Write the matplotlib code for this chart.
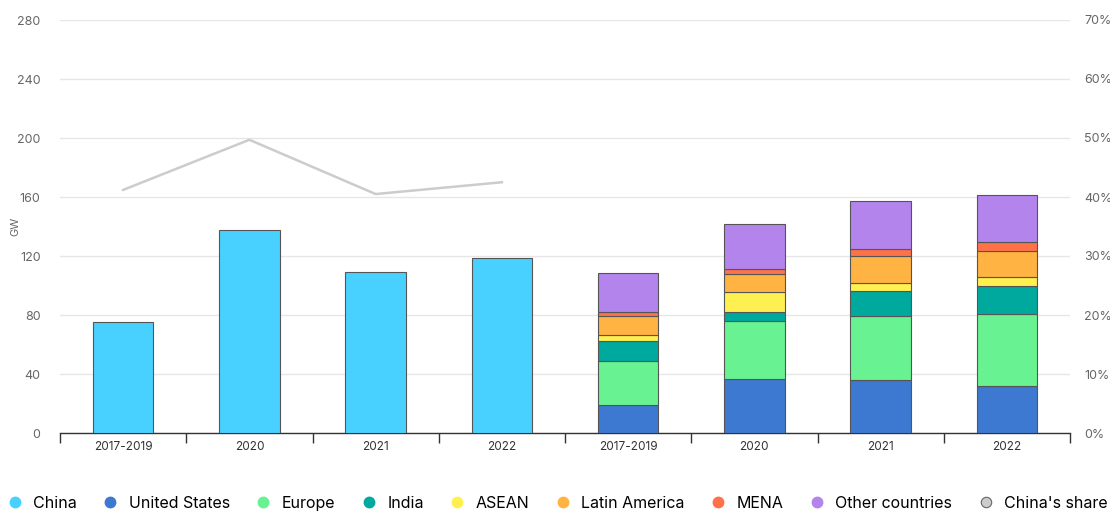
import matplotlib
matplotlib.use("Agg")
import matplotlib.pyplot as plt
from matplotlib.lines import Line2D
from matplotlib.ticker import FuncFormatter
import numpy as np

plt.rcParams['font.family'] = ['Inter', 'DejaVu Sans']

# Categories (first four: China; last four: rest of world by region)
categories = ["2017-2019", "2020", "2021", "2022", "2017-2019", "2020", "2021", "2022"]

china = [75.3, 137.6, 109.2, 118.6]
china_share = [41.2, 49.7, 40.5, 42.5]  # percent

united_states = [19.0, 36.8, 35.7, 31.9]
europe = [29.6, 39.3, 43.6, 48.6]
india = [13.6, 5.7, 16.8, 19.2]
asean = [4.5, 13.6, 5.4, 5.9]
latin_america = [12.4, 12.4, 18.5, 17.9]
mena = [2.7, 3.2, 4.5, 6.3]
other_countries = [27.0, 30.7, 32.6, 31.7]

region_series = [
    ("United States", united_states, "#3d78d1"),
    ("Europe", europe, "#68f291"),
    ("India", india, "#00a99d"),
    ("ASEAN", asean, "#fff051"),
    ("Latin America", latin_america, "#ffb343"),
    ("MENA", mena, "#ff7149"),
    ("Other countries", other_countries, "#b284ec"),
]
china_color = "#48d1ff"
share_color = "#cccccc"

fig = plt.figure(figsize=(11.1, 5.11), dpi=100)
ax = fig.add_axes([60 / 1110, 1 - 433 / 511, 1010 / 1110, 413 / 511])

x = np.arange(len(categories))
bw = 0.48
edge = dict(edgecolor="#555555", linewidth=0.8)

ax.bar(x[:4], china, width=bw, color=china_color, zorder=3, **edge)

bottom = np.zeros(4)
for name, vals, col in region_series:
    vals = np.array(vals)
    ax.bar(x[4:], vals, width=bw, bottom=bottom, color=col, zorder=3, **edge)
    bottom += vals

ax.set_xlim(-0.5, len(categories) - 0.5)
ax.set_ylim(0, 280)
ax.set_yticks(np.arange(0, 281, 40))
ax.grid(axis="y", color="#e6e6e6", linewidth=1, zorder=0)
ax.tick_params(axis="y", length=0, pad=14, labelsize=9, labelcolor="#666666")
fig.text(15 / 1110, 1 - 226 / 511, "GW", rotation=90, fontsize=8, color="#666666",
         ha="center", va="center")

# Category boundaries carry ticks; labels sit at the centres
ax.set_xticks(np.arange(-0.5, len(categories), 1.0))
ax.set_xticklabels([])
ax.set_xticks(x, minor=True)
ax.set_xticklabels(categories, minor=True)
ax.tick_params(axis="x", which="major", length=7, width=1, color="#333333", direction="out")
ax.tick_params(axis="x", which="minor", length=0, pad=6, labelsize=8.5, labelcolor="#333333")

for side in ["top", "right", "left"]:
    ax.spines[side].set_visible(False)
ax.spines["bottom"].set_color("#333333")
ax.spines["bottom"].set_linewidth(1)

ax2 = ax.twinx()
ax2.plot(x[:4], np.array(china_share) / 100, color=share_color, linewidth=1.8, zorder=4)
ax2.set_ylim(0, 0.7)
ax2.set_yticks(np.arange(0, 0.71, 0.1))
ax2.yaxis.set_major_formatter(FuncFormatter(lambda v, p: f"{v * 100:.0f}%"))
ax2.tick_params(axis="y", length=0, pad=10, labelsize=9, labelcolor="#666666")
for side in ["top", "right", "left", "bottom"]:
    ax2.spines[side].set_visible(False)

ms = 7.5
handles = [Line2D([], [], marker="o", linestyle="none", markersize=ms,
                  markerfacecolor=china_color, markeredgecolor=china_color)]
labels = ["China"]
for name, vals, col in region_series:
    handles.append(Line2D([], [], marker="o", linestyle="none", markersize=ms,
                          markerfacecolor=col, markeredgecolor=col))
    labels.append(name)
handles.append(Line2D([], [], marker="o", linestyle="none", markersize=ms,
                      markerfacecolor=share_color, markeredgecolor="#666666",
                      markeredgewidth=0.8))
labels.append("China's share")

fig.legend(handles, labels, loc="center left", bbox_to_anchor=(10 / 1110, 1 - 503 / 511),
           ncol=9, frameon=False, fontsize=11.5, handlelength=0.6,
           handletextpad=0.85, columnspacing=1.8, borderaxespad=0, borderpad=0.0)

fig.savefig("out.png", dpi=100)
